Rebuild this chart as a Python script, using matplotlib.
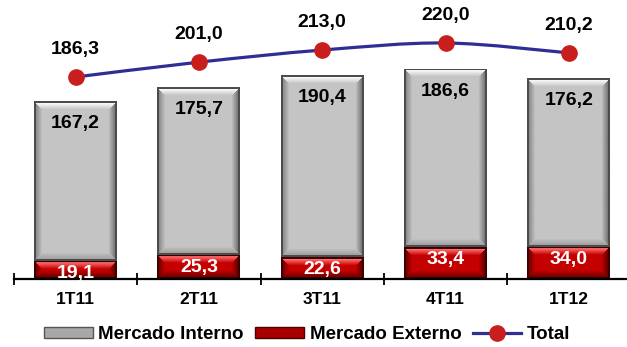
import matplotlib
matplotlib.use("Agg")
import matplotlib.pyplot as plt
import numpy as np
from matplotlib.colors import to_rgb
from matplotlib.lines import Line2D
from matplotlib.patches import Patch, PathPatch
from matplotlib.path import Path

plt.rcParams["font.family"] = ["Liberation Sans", "DejaVu Sans"]
plt.rcParams["font.weight"] = "bold"

quarters = ["1T11", "2T11", "3T11", "4T11", "1T12"]
mercado_externo = [19.1, 25.3, 22.6, 33.4, 34.0]
mercado_interno = [167.2, 175.7, 190.4, 186.6, 176.2]
total = [186.3, 201.0, 213.0, 220.0, 210.2]

GRAY = dict(body="#c4c4c4", top="#f8f8f8", left="#8e8e8e", right="#7c7c7c",
            bottom="#a2a2a2", border="#4c4c4c")
RED = dict(body="#c40000", top="#ff6a6a", left="#7a0000", right="#6a0000",
           bottom="#780000", border="#3c0000")


def bevel_image(style, w, h, bevel=6, border=2):
    """Build an RGB array that shades a bar like a raised 3D button."""
    h = max(h, 2)
    rows, cols = np.mgrid[0:h, 0:w]
    dist = np.stack([rows, h - 1 - rows, cols, w - 1 - cols])  # top, bottom, left, right
    edge = dist.argmin(axis=0)
    m = dist.min(axis=0)
    body = np.array(to_rgb(style["body"]))
    edge_cols = np.array([to_rgb(style[k]) for k in ("top", "bottom", "left", "right")])
    t = np.clip((m - border) / bevel, 0, 1)[..., None]
    img = edge_cols[edge] * (1 - t) + body * t
    img[m < border] = to_rgb(style["border"])
    return img


def draw_bar(ax, x, bottom, height, width, style, px_per_unit, px_per_x):
    patch = ax.bar(x, height, width, bottom=bottom, color="none", linewidth=0)[0]
    w_px = int(round(width * px_per_x))
    h_px = int(round(height * px_per_unit))
    img = bevel_image(style, w_px, h_px)
    im = ax.imshow(img, extent=(x - width / 2, x + width / 2, bottom, bottom + height),
                   aspect="auto", origin="upper", interpolation="bilinear", zorder=2)
    im.set_clip_path(patch)


def smooth_path(xs, ys, tension=1 / 6):
    """Catmull-Rom style Bezier path through the points."""
    pts = np.column_stack([xs, ys])
    verts = [pts[0]]
    codes = [Path.MOVETO]
    n = len(pts)
    for i in range(n - 1):
        p0 = pts[max(i - 1, 0)]
        p1, p2 = pts[i], pts[i + 1]
        p3 = pts[min(i + 2, n - 1)]
        c1 = p1 + (p2 - p0) * tension
        c2 = p2 - (p3 - p1) * tension
        verts += [c1, c2, p2]
        codes += [Path.CURVE4] * 3
    return Path(verts, codes)


fig = plt.figure(figsize=(6.27, 3.47), dpi=100)
ax = fig.add_axes([14 / 627, 68 / 347, 616.5 / 627, 279 / 347])
ax2 = ax.twinx()

x = np.arange(len(quarters))
bar_w = 0.673
ax.set_xlim(-0.5, len(quarters) - 0.5)
ax.set_ylim(0, 292)
ax2.set_ylim(-13.9, 262.6)

px_per_unit = 279 / 292
px_per_x = 616.5 / len(quarters)

for xi, ext, intn in zip(x, mercado_externo, mercado_interno):
    draw_bar(ax, xi, 0, ext, bar_w, RED, px_per_unit, px_per_x)
    draw_bar(ax, xi, ext, intn, bar_w, GRAY, px_per_unit, px_per_x)
    ax.annotate(f"{intn:.1f}".replace(".", ","), (xi, ext + intn), xytext=(0, -16),
                textcoords="offset points", ha="center", va="center",
                fontsize=14, fontweight="bold", color="black", zorder=5)
    ax.annotate(f"{ext:.1f}".replace(".", ","), (xi, ext), xytext=(0, -9),
                textcoords="offset points", ha="center", va="center",
                fontsize=14, fontweight="bold", color="white", zorder=5)

# Total line on the secondary scale
line_color = "#2e2e96"
ax2.add_patch(PathPatch(smooth_path(x, total), facecolor="none",
                        edgecolor=line_color, linewidth=2.3, zorder=3))
ax2.plot(x, total, "o", ls="none", color="#c81e1e", markersize=11, zorder=4)
for xi, tv in zip(x, total):
    ax2.annotate(f"{tv:.1f}".replace(".", ","), (xi, tv), xytext=(0, 20),
                 textcoords="offset points", ha="center", va="center",
                 fontsize=14, fontweight="bold", color="black")

# Axis: boundary ticks crossing the baseline, labels centred under bars
for a in (ax, ax2):
    for side in ("left", "right", "top"):
        a.spines[side].set_visible(False)
    a.set_yticks([])
ax2.spines["bottom"].set_visible(False)
ax.spines["bottom"].set_linewidth(1.6)
ax.set_xticks(np.arange(-0.5, len(quarters)), labels=[])
ax.tick_params(axis="x", which="major", direction="inout", length=9, width=1.3)
ax.set_xticks(x, labels=quarters, minor=True)
ax.tick_params(axis="x", which="minor", length=0, pad=9, labelsize=12.5)

handles = [
    Patch(facecolor="#a8a8a8", edgecolor="#555555", linewidth=1),
    Patch(facecolor="#a80000", edgecolor="#500000", linewidth=1),
    Line2D([], [], color=line_color, linewidth=2.3, marker="o",
           markersize=11, markerfacecolor="#c81e1e", markeredgecolor="#c81e1e"),
]
fig.legend(handles, ["Mercado Interno", "Mercado Externo", "Total"],
           loc="center", bbox_to_anchor=(0.49, 0.036), ncol=3, frameon=False,
           fontsize=13.5, handlelength=2.6, handletextpad=0.3, columnspacing=0.6,
           handleheight=0.5, borderpad=0.1)

fig.savefig("out.png", dpi=100)
